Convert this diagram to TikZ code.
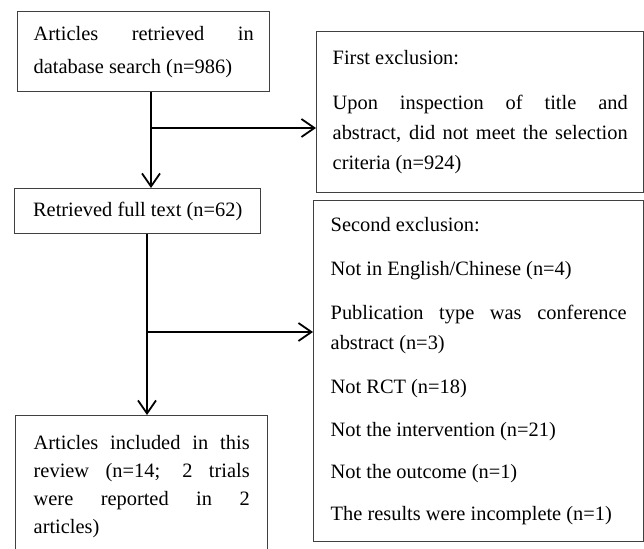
\documentclass[tikz,border=0pt]{standalone}
\usepackage{fontspec}
\setmainfont{Liberation Serif}
\usetikzlibrary{arrows.meta}
\hyphenpenalty=10000
\exhyphenpenalty=10000
\tikzset{
  box/.style={draw=black!75, line width=0.7bp, anchor=north west, align=justify,
    inner xsep=8bp, inner ysep=0pt, font=\fontsize{10.2bp}{15bp}\selectfont},
  flow/.style={line width=0.9bp, -{Straight Barb[length=6.5bp,width=9bp]}},
}
\begin{document}
\begin{tikzpicture}[x=0.5bp,y=-0.5bp]
  \useasboundingbox (0,0) rectangle (644,549);
  \clip (0,0) rectangle (644,549);
  % left column
  \node[box, text width=110bp, minimum height=40bp,
    font=\fontsize{10.2bp}{16.5bp}\selectfont] (search) at (17,11)
    {Articles retrieved in\linebreak database search (n=986)\par\vspace*{-3bp}};
  \node[box, align=left, minimum width=123bp, minimum height=22.5bp] (fulltext) at (14,188)
    {Retrieved full text (n=62)};
  \node[box, text width=108bp, inner xsep=9bp, inner ysep=10bp,
    font=\fontsize{10.2bp}{14bp}\selectfont] (included) at (15,415)
    {Articles included in this\linebreak review (n=14; 2 trials\linebreak
     were reported in 2\linebreak articles)};
  % right column
  \node[box, text width=147.5bp, minimum height=80.5bp] (first) at (316,31)
    {First exclusion:\\[7.5bp]
     Upon inspection of title and\linebreak abstract, did not meet the
     selection\linebreak criteria (n=924)\par\vspace*{6bp}};
  \node[box, text width=148bp, inner xsep=8.5bp, minimum height=170.5bp] (second) at (313,200)
    {Second exclusion:\\[7bp]
     Not in English/Chinese (n=4)\\[7bp]
     Publication type was conference\linebreak abstract (n=3)\\[7bp]
     Not RCT (n=18)\\[6.5bp]
     Not the intervention (n=21)\\[6bp]
     Not the outcome (n=1)\\[6bp]
     The results were incomplete (n=1)};
  % arrows
  \coordinate (split1) at (151,128);
  \coordinate (split2) at (147,332);
  \draw[flow] (search.south -| split1) -- (fulltext.north -| split1);
  \draw[flow] (split1) -- (split1 -| first.west);
  \draw[flow] (fulltext.south -| split2) -- (included.north -| split2);
  \draw[flow] (split2) -- (split2 -| second.west);
\end{tikzpicture}
\end{document}
